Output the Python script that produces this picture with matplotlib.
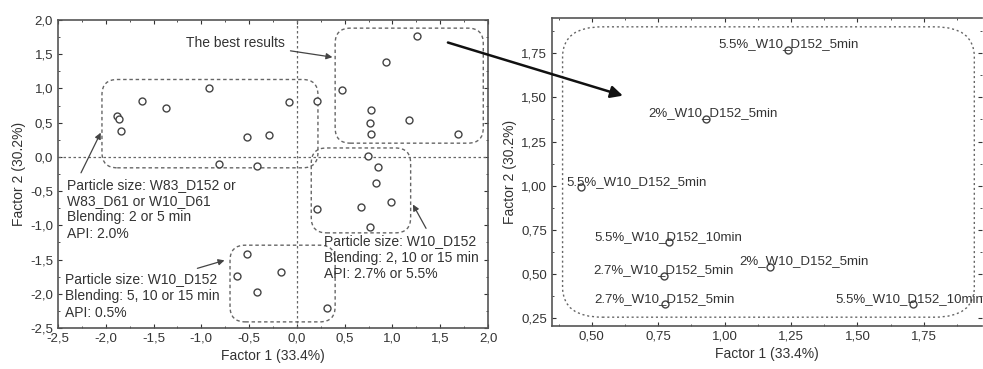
import numpy as np
import matplotlib.pyplot as plt
from matplotlib.patches import FancyBboxPatch, ConnectionPatch
from matplotlib.ticker import FuncFormatter, MultipleLocator, AutoMinorLocator

plt.rcParams['font.family'] = ['Liberation Sans', 'DejaVu Sans']

# score plot, all samples (Factor 1, Factor 2)
f1_all = [-1.88, -1.86, -1.84, -1.62, -1.37, -0.92, -0.82, -0.52, -0.29, -0.08, 0.21, -0.42,
          1.26, 0.93, 0.47, 0.78, 0.76, 0.77, 1.17, 1.69,
          0.74, 0.85, 0.83, 0.21, 0.67, 0.98, 0.76,
          -0.63, -0.52, -0.17, -0.42, 0.31]
f2_all = [0.60, 0.56, 0.38, 0.82, 0.72, 1.01, -0.10, 0.29, 0.32, 0.80, 0.82, -0.13,
          1.77, 1.38, 0.98, 0.69, 0.49, 0.33, 0.54, 0.33,
          0.01, -0.15, -0.38, -0.76, -0.73, -0.66, -1.02,
          -1.74, -1.42, -1.68, -1.97, -2.21]

# zoom on the best results
f1_best = [1.24, 0.93, 0.46, 0.79, 0.77, 0.775, 1.17, 1.71]
f2_best = [1.77, 1.38, 0.99, 0.68, 0.49, 0.33, 0.54, 0.33]
best_labels = ['5.5%_W10_D152_5min', '2%_W10_D152_5min', '5.5%_W10_D152_5min',
               '5.5%_W10_D152_10min', '2.7%_W10_D152_5min', '2.7%_W10_D152_5min',
               '2%_W10_D152_5min', '5.5%_W10_D152_10min']
label_dx = [0, 5, 40, 0, 0, 0, 25, -3]

# groups: x0, y0, x1, y1
groups = [(-2.04, -0.16, 0.22, 1.13),
          (0.40, 0.20, 1.95, 1.88),
          (0.15, -1.11, 1.19, 0.13),
          (-0.70, -2.41, 0.40, -1.29)]

txt = '#333333'
grey = '#666666'


def comma(d):
    return FuncFormatter(lambda v, p: f'{v:.{d}f}'.replace('.', ','))


fig = plt.figure(figsize=(9.83, 3.69), dpi=100)
ax1 = fig.add_axes([0.059, 0.111, 0.4375, 0.835])
ax2 = fig.add_axes([0.5615, 0.1165, 0.4375, 0.8347])

for ax in (ax1, ax2):
    for s in ax.spines.values():
        s.set_color('#555555')
        s.set_linewidth(1.2)
    ax.tick_params(direction='in', top=True, right=True, colors=txt, labelsize=9.5,
                   length=3, which='both')
    ax.tick_params(which='minor', length=1.5)
    ax.xaxis.set_minor_locator(AutoMinorLocator(2))
    ax.yaxis.set_minor_locator(AutoMinorLocator(2))
    ax.set_xlabel('Factor 1 (33.4%)', fontsize=10, color=txt, labelpad=3)
    ax.set_ylabel('Factor 2 (30.2%)', fontsize=10, color=txt, labelpad=3)

# left plot
ax1.set_xlim(-2.5, 2.0)
ax1.set_ylim(-2.5, 2.0)
ax1.xaxis.set_major_locator(MultipleLocator(0.5))
ax1.yaxis.set_major_locator(MultipleLocator(0.5))
ax1.xaxis.set_major_formatter(comma(1))
ax1.yaxis.set_major_formatter(comma(1))
ax1.axhline(0, color=grey, lw=0.9, ls=(0, (2, 2)))
ax1.axvline(0, color=grey, lw=0.9, ls=(0, (2, 2)))
ax1.plot(f1_all, f2_all, 'o', ms=5, mfc='white', mec='#444444', mew=1)

for x0, y0, x1, y1 in groups:
    ax1.add_patch(FancyBboxPatch((x0, y0), x1 - x0, y1 - y0,
                                 boxstyle='round,pad=0,rounding_size=0.16',
                                 mutation_aspect=1.4, fill=False, ec=grey,
                                 lw=1, ls=(0, (2.5, 2))))

ap = dict(arrowstyle='-|>', color='#444444', lw=0.9, mutation_scale=9)
ax1.annotate('The best results', xy=(0.40, 1.45), xytext=(-1.16, 1.67),
             fontsize=10, color=txt, va='center', arrowprops=ap)
ax1.annotate('Particle size: W83_D152 or\nW83_D61 or W10_D61\nBlending: 2 or 5 min\nAPI: 2.0%',
             xy=(-2.04, 0.39), xytext=(-2.41, -0.31), fontsize=10, color=txt,
             va='top', linespacing=1.2,
             arrowprops=dict(ap, relpos=(0.07, 1.0)))
ax1.annotate('Particle size: W10_D152\nBlending: 5, 10 or 15 min\nAPI: 0.5%',
             xy=(-0.73, -1.50), xytext=(-2.43, -1.68), fontsize=10, color=txt,
             va='top', linespacing=1.27,
             arrowprops=dict(ap, relpos=(0.78, 1.0)))
ax1.annotate('Particle size: W10_D152\nBlending: 2, 10 or 15 min\nAPI: 2.7% or 5.5%',
             xy=(1.20, -0.66), xytext=(0.28, -1.12), fontsize=10, color=txt,
             va='top', linespacing=1.27,
             arrowprops=dict(ap, relpos=(0.68, 1.0)))

# right plot
ax2.set_xlim(0.35, 1.969)
ax2.set_ylim(0.205, 1.95)
ax2.xaxis.set_major_locator(MultipleLocator(0.25))
ax2.yaxis.set_major_locator(MultipleLocator(0.25))
ax2.xaxis.set_major_formatter(comma(2))
ax2.yaxis.set_major_formatter(comma(2))
ax2.spines['right'].set_visible(False)
ax2.plot(f1_best, f2_best, 'o', ms=5, mfc='white', mec='#444444', mew=1, clip_on=False)
for x, y, s, dx in zip(f1_best, f2_best, best_labels, label_dx):
    ax2.annotate(s, (x, y), xytext=(dx, -0.5), textcoords='offset points',
                 ha='center', va='bottom', fontsize=9.5, color=txt)
ax2.add_patch(FancyBboxPatch((0.39, 0.255), 1.94 - 0.39, 1.90 - 0.255,
                             boxstyle='round,pad=0,rounding_size=0.15',
                             mutation_aspect=1.13, fill=False, ec=grey,
                             lw=1, ls=(0, (1.5, 2))))

con = ConnectionPatch(xyA=(1.58, 1.67), coordsA=ax1.transData,
                      xyB=(0.617, 1.51), coordsB=ax2.transData,
                      arrowstyle='-|>', color='#111111', lw=1.8, mutation_scale=18)
fig.add_artist(con)

fig.savefig('out.png', dpi=100)
